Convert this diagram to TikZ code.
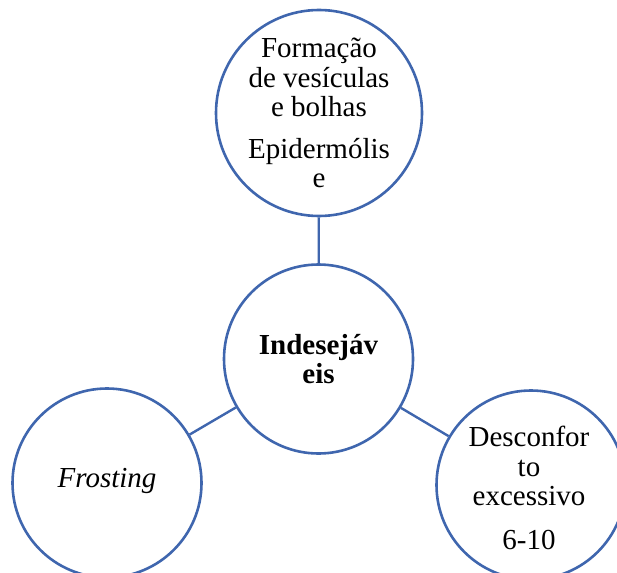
\documentclass[tikz,border=0pt]{standalone}
\usepackage{fontspec}
\setmainfont{Liberation Serif}
\usetikzlibrary{positioning}
\definecolor{ringblue}{HTML}{3F66AE}

\begin{document}
\begin{tikzpicture}[
  x=1pt,y=-1pt,
  ring/.style={draw=ringblue,line width=2.6pt,circle,fill=white,inner sep=0pt,minimum size=189pt},
  txt/.style={align=center,inner sep=0pt,font=\fontsize{29}{29.5}\selectfont},
  link/.style={draw=ringblue,line width=2.4pt}
]
\clip (0,0) rectangle (617,572);
\node[ring] (hub) at (318.5,359) {};
\node[ring,minimum size=206pt] (blister) at (319,113) {};
\node[ring] (frost) at (107,483) {};
\node[ring] (pain) at (531,485) {};
\node[txt,font=\fontsize{29}{29.5}\selectfont\bfseries] (hubText) at (hub) {Indesejáv\\eis};
\node[txt] (blisterText) at (blister) {Formação\\de vesículas\\e bolhas\\[12pt]Epidermólis\\e};
\node[txt,yshift=2pt] (frostText) at (frost) {\textit{Frosting}};
\node[txt,xshift=-2pt,yshift=-3pt] (painText) at (pain) {Desconfor\\to\\excessivo\\[14pt]6-10};
\draw[link] (blister) -- (hub);
\draw[link] (hub) -- (frost);
\draw[link] (hub) -- (pain);
\end{tikzpicture}
\end{document}
